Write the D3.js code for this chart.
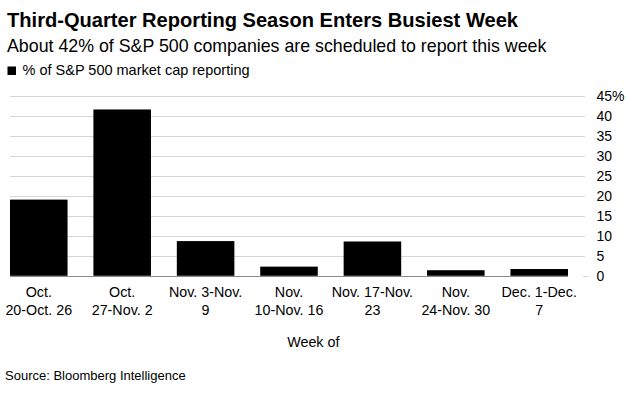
<!DOCTYPE html>
<html>
<head>
<meta charset="utf-8">
<script src="https://cdn.jsdelivr.net/npm/d3@7"></script>
<style>
  html, body { margin: 0; padding: 0; background: #fff; }
  svg { display: block; font-family: "Liberation Sans", Arial, Helvetica, sans-serif; }
</style>
</head>
<body>
<svg id="chart" width="626" height="398"></svg>
<script>
const categories = [
  ["Oct.", "20-Oct. 26"],
  ["Oct.", "27-Nov. 2"],
  ["Nov. 3-Nov.", "9"],
  ["Nov.", "10-Nov. 16"],
  ["Nov. 17-Nov.", "23"],
  ["Nov.", "24-Nov. 30"],
  ["Dec. 1-Dec.", "7"]
];
const values = [19.1, 41.7, 8.7, 2.3, 8.6, 1.4, 1.7];
const yTicks = [0, 5, 10, 15, 20, 25, 30, 35, 40, 45];
const yTickLabels = ["0", "5", "10", "15", "20", "25", "30", "35", "40", "45%"];
const title = "Third-Quarter Reporting Season Enters Busiest Week";
const subtitle = "About 42% of S&P 500 companies are scheduled to report this week";
const legendLabel = "% of S&P 500 market cap reporting";
const xAxisTitle = "Week of";
const source = "Source: Bloomberg Intelligence";

const svg = d3.select("#chart");
const keys = categories.map(c => c.join(" "));

const x = d3.scaleBand().domain(keys).range([10, 568]).paddingInner(0.31).paddingOuter(0);
const y = d3.scaleLinear().domain([0, 45]).range([275.8, 96.3]);

// Title block
svg.append("text").attr("x", 7).attr("y", 26.7)
  .attr("font-size", 20.1).attr("font-weight", "bold").attr("fill", "#000")
  .text(title);
svg.append("text").attr("x", 7).attr("y", 52.3)
  .attr("font-size", 17.8).attr("fill", "#000")
  .text(subtitle);
svg.append("rect").attr("x", 7.5).attr("y", 66.5).attr("width", 8.5).attr("height", 8.5).attr("fill", "#000");
svg.append("text").attr("x", 22.5).attr("y", 75.4)
  .attr("font-size", 14.5).attr("fill", "#000")
  .text(legendLabel);

// Gridlines
svg.append("g").selectAll("line").data(yTicks.filter(t => t !== 0)).join("line")
  .attr("x1", 10).attr("x2", 585)
  .attr("y1", d => Math.round(y(d)) + 0.5).attr("y2", d => Math.round(y(d)) + 0.5)
  .attr("stroke", "#d6d6d6").attr("stroke-width", 1);

// small tick at zero
svg.append("line").attr("x1", 583).attr("x2", 588.5)
  .attr("y1", Math.round(y(0)) + 0.5).attr("y2", Math.round(y(0)) + 0.5)
  .attr("stroke", "#d6d6d6");

// y tick labels
svg.append("g").selectAll("text").data(yTicks).join("text")
  .attr("x", 596.5).attr("y", d => y(d)).attr("dy", "0.35em")
  .attr("font-size", 14).attr("fill", "#000")
  .text((d, i) => yTickLabels[i]);

// Bars
svg.append("g").selectAll("rect").data(values).join("rect")
  .attr("x", (d, i) => x(keys[i]))
  .attr("width", x.bandwidth())
  .attr("y", d => y(d))
  .attr("height", d => y(0) - y(d))
  .attr("fill", "#000");

// Baseline
svg.append("line").attr("x1", 10).attr("x2", 568)
  .attr("y1", Math.round(y(0)) + 0.5).attr("y2", Math.round(y(0)) + 0.5)
  .attr("stroke", "#8a8a8a").attr("stroke-width", 1);

// X labels
const xl = svg.append("g").selectAll("text").data(categories).join("text")
  .attr("x", (d, i) => x(keys[i]) + x.bandwidth() / 2)
  .attr("text-anchor", "middle")
  .attr("font-size", 14.3).attr("fill", "#000");
xl.append("tspan").attr("x", (d, i) => x(keys[i]) + x.bandwidth() / 2).attr("y", 296.5).text(d => d[0]);
xl.append("tspan").attr("x", (d, i) => x(keys[i]) + x.bandwidth() / 2).attr("y", 314.5).text(d => d[1]);

svg.append("text").attr("x", 313.3).attr("y", 347)
  .attr("text-anchor", "middle").attr("font-size", 14.3).attr("fill", "#000")
  .text(xAxisTitle);

svg.append("text").attr("x", 5).attr("y", 380)
  .attr("font-size", 13).attr("fill", "#000")
  .text(source);
</script>
</body>
</html>
